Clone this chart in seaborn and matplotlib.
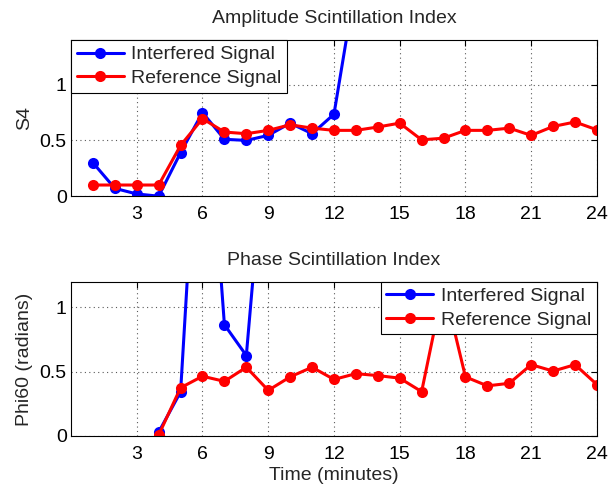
import numpy as np
import pandas as pd
import seaborn as sns
import matplotlib.pyplot as plt

"""
Data read off the chart (values past the top of each panel are clipped there)
"""
minutes = list(range(1, 25))

s4_interfered = [0.30, 0.07, 0.02, 0.00, 0.39, 0.75, 0.51, 0.50, 0.545, 0.655, 0.56, 0.735,
                 1.92, 2.3, 2.6, 2.4, 2.8, 2.5, 2.7, 2.9, 2.6, 2.4, 2.7, 2.5]
s4_reference = [0.10, 0.10, 0.10, 0.10, 0.455, 0.695, 0.575, 0.56, 0.59, 0.64, 0.61, 0.59,
                0.59, 0.62, 0.655, 0.505, 0.52, 0.59, 0.59, 0.61, 0.545, 0.625, 0.665, 0.595]

phi_interfered = [np.nan, np.nan, np.nan, 0.03, 0.343, 3.2, 0.866, 0.626, 2.6, 2.9,
                  3.1, 2.8, 3.0, 2.7, 3.2, 2.9, 3.1, 2.8, 3.0, 2.9, 3.2, 2.8, 3.0, 2.9]
phi_reference = [np.nan, np.nan, np.nan, 0.008, 0.375, 0.465, 0.425, 0.535, 0.355, 0.46,
                 0.535, 0.44, 0.485, 0.47, 0.45, 0.345, 1.17, 0.46, 0.39, 0.41,
                 0.555, 0.505, 0.555, 0.40]

signals = ['Interfered Signal', 'Reference Signal']
colors = {'Interfered Signal': 'blue', 'Reference Signal': 'red'}
xticks = [3, 6, 9, 12, 15, 18, 21, 24]


def long_form(interfered, reference):
    return pd.DataFrame({
        'minute': minutes * 2,
        'value': list(interfered) + list(reference),
        'signal': [signals[0]] * len(minutes) + [signals[1]] * len(minutes),
    }).dropna()


sns.set_style('white')
plt.rcParams['font.family'] = ['Liberation Sans', 'DejaVu Sans']
plt.rcParams['font.size'] = 14

fig = plt.figure(figsize=(6.08, 4.88), dpi=100)
ax1 = fig.add_axes([0.1168, 0.598, 0.865, 0.320])
ax2 = fig.add_axes([0.1168, 0.1066, 0.865, 0.316])

panels = [
    (ax1, long_form(s4_interfered, s4_reference), 'Amplitude Scintillation Index',
     'S4', 1.4, 'upper left'),
    (ax2, long_form(phi_interfered, phi_reference), 'Phase Scintillation Index',
     'Phi60 (radians)', 1.2, 'upper right'),
]

for ax, df, title, ylabel, ytop, legend_loc in panels:
    sns.lineplot(data=df, x='minute', y='value', hue='signal', hue_order=signals,
                 palette=colors, marker='o', markersize=8, markeredgewidth=0,
                 linewidth=2.2, ax=ax)
    ax.set_xlim(0, 24)
    ax.set_ylim(0, ytop)
    ax.set_xticks(xticks)
    ax.set_yticks([0, 0.5, 1])
    ax.set_yticklabels(['0', '0.5', '1'])
    ax.grid(True, linestyle=(0, (1, 3)), color='0.35', linewidth=0.8)
    ax.tick_params(direction='in', top=True, right=True, length=4, width=0.8,
                   labelsize=14, colors='black')
    ax.tick_params(axis='x', pad=7)
    ax.tick_params(axis='y', pad=3)
    for sp in ax.spines.values():
        sp.set_color('black')
        sp.set_linewidth(0.8)
    ax.set_title(title, fontsize=14, pad=12)
    ax.set_ylabel(ylabel, fontsize=14)
    ax.yaxis.set_label_coords(-0.072, 0.5)
    ax.set_xlabel('')

    handles, labels = ax.get_legend_handles_labels()
    leg = ax.legend(handles, labels, loc=legend_loc, borderaxespad=0, fancybox=False,
                    edgecolor='black', framealpha=1, fontsize=14, handlelength=2.4,
                    labelspacing=0.3, borderpad=0.3, handletextpad=0.4)
    leg.get_frame().set_linewidth(0.8)

ax2.set_xlabel('Time (minutes)', fontsize=14, labelpad=3)

fig.savefig('out.png', dpi=100)
